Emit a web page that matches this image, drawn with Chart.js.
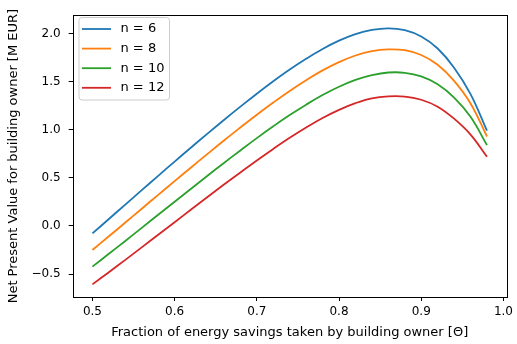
<!DOCTYPE html>
<html>
<head>
<meta charset="utf-8">
<script src="https://cdn.jsdelivr.net/npm/chart.js@4"></script>
<style>
  html, body { margin:0; padding:0; background:#fff; }
  #wrap { width:517px; height:344px; position:relative; }
</style>
</head>
<body>
<div id="wrap"><canvas id="npvChart" width="517" height="344"></canvas></div>
<script>
// fraction of savings taken by owner (theta)
const theta = [0.50, 0.52, 0.54, 0.56, 0.58, 0.60, 0.62, 0.64, 0.66, 0.68, 0.70, 0.72, 0.74,
               0.76, 0.78, 0.80, 0.82, 0.84, 0.86, 0.88, 0.90, 0.92, 0.94, 0.96, 0.98];
// NPV [M EUR] per contract length n
const npvN6  = [-0.078, 0.072, 0.222, 0.372, 0.521, 0.669, 0.815, 0.960, 1.102, 1.240, 1.375, 1.504, 1.626,
                1.738, 1.840, 1.926, 1.994, 2.038, 2.055, 2.035, 1.970, 1.845, 1.645, 1.370, 0.99];
const npvN8  = [-0.250, -0.108, 0.035, 0.179, 0.323, 0.466, 0.608, 0.749, 0.888, 1.023, 1.156, 1.283, 1.404,
                1.515, 1.617, 1.703, 1.772, 1.818, 1.836, 1.827, 1.777, 1.675, 1.508, 1.273, 0.93];
const npvN10 = [-0.423, -0.290, -0.156, -0.020, 0.116, 0.252, 0.387, 0.522, 0.655, 0.785, 0.913, 1.036, 1.153,
                1.261, 1.361, 1.447, 1.518, 1.568, 1.595, 1.592, 1.555, 1.473, 1.335, 1.135, 0.84];
const npvN12 = [-0.608, -0.481, -0.353, -0.223, -0.092, 0.039, 0.170, 0.301, 0.430, 0.556, 0.681, 0.801, 0.916,
                1.023, 1.122, 1.207, 1.277, 1.327, 1.347, 1.345, 1.312, 1.240, 1.115, 0.950, 0.72];
const seriesLabels = ['n = 6', 'n = 8', 'n = 10', 'n = 12'];
const xTicks = [0.5, 0.6, 0.7, 0.8, 0.9, 1.0];
const yTicks = [-0.5, 0.0, 0.5, 1.0, 1.5, 2.0];

const colors = ['#1f77b4', '#ff7f0e', '#2ca02c', '#d62728'];
const FONT = 'DejaVu Sans';
const FS = 12;      // tick labels
const FS_T = 13;    // axis titles + legend

function pts(ys) { return theta.map((t, i) => ({x: t, y: ys[i]})); }
function fmt(v) { return (v < 0 ? '\u2212' : '') + Math.abs(v).toFixed(1); }

// axes frame, axis titles and a matplotlib-ish legend box
const frameAndLegend = {
  id: 'frameAndLegend',
  afterDraw(chart) {
    const {ctx, chartArea: a} = chart;
    ctx.save();
    ctx.strokeStyle = '#000';
    ctx.lineWidth = 1;
    ctx.strokeRect(Math.round(a.left) + 0.5, Math.round(a.top) + 0.5,
      Math.round(a.right - a.left), Math.round(a.bottom - a.top));

    ctx.fillStyle = '#000';
    ctx.font = FS_T + 'px "' + FONT + '"';
    ctx.textAlign = 'center';
    ctx.textBaseline = 'middle';
    ctx.fillText('Fraction of energy savings taken by building owner [\u0398]', (a.left + a.right) / 2, 333);
    ctx.save();
    ctx.translate(14, (a.top + a.bottom) / 2);
    ctx.rotate(-Math.PI / 2);
    ctx.fillText('Net Present Value for building owner [M EUR]', 0, 0);
    ctx.restore();

    // legend
    const x0 = 79, y0 = 17.5, w = 90.5, h = 82.5, r = 3;
    ctx.beginPath();
    ctx.moveTo(x0 + r, y0);
    ctx.arcTo(x0 + w, y0, x0 + w, y0 + h, r);
    ctx.arcTo(x0 + w, y0 + h, x0, y0 + h, r);
    ctx.arcTo(x0, y0 + h, x0, y0, r);
    ctx.arcTo(x0, y0, x0 + w, y0, r);
    ctx.closePath();
    ctx.fillStyle = 'rgba(255,255,255,0.8)';
    ctx.fill();
    ctx.strokeStyle = '#cccccc';
    ctx.lineWidth = 1;
    ctx.stroke();
    ctx.textAlign = 'left';
    chart.data.datasets.forEach((ds, i) => {
      const yy = 29 + i * 19.6;
      ctx.strokeStyle = ds.borderColor;
      ctx.lineWidth = 1.8;
      ctx.beginPath();
      ctx.moveTo(82, yy);
      ctx.lineTo(111, yy);
      ctx.stroke();
      ctx.fillStyle = '#000';
      ctx.fillText(ds.label, 120.5, yy);
    });
    ctx.restore();
  }
};

new Chart(document.getElementById('npvChart'), {
  type: 'line',
  data: {
    datasets: [npvN6, npvN8, npvN10, npvN12].map((ys, i) => ({
      label: seriesLabels[i],
      data: pts(ys),
      borderColor: colors[i],
      borderWidth: 1.8,
      pointRadius: 0,
      tension: 0.4,
      fill: false
    }))
  },
  options: {
    responsive: false,
    animation: false,
    layout: { padding: { left: 0, right: 5, top: 11, bottom: 0 } },
    plugins: { legend: { display: false }, tooltip: { enabled: false } },
    scales: {
      x: {
        type: 'linear', min: 0.476, max: 1.004,
        afterBuildTicks: s => { s.ticks = xTicks.map(v => ({value: v})); },
        afterFit: s => { s.height = 47; },
        grid: { drawOnChartArea: false, drawTicks: true, tickLength: 4, color: '#000', tickColor: '#000' },
        border: { display: false },
        ticks: { color: '#000', padding: 4, maxRotation: 0, font: { family: FONT, size: FS },
                 callback: v => v.toFixed(1) }
      },
      y: {
        type: 'linear', min: -0.739, max: 2.191,
        afterBuildTicks: s => { s.ticks = yTicks.map(v => ({value: v})); },
        afterFit: s => { s.width = 72.7; },
        grid: { drawOnChartArea: false, drawTicks: true, tickLength: 4, color: '#000', tickColor: '#000' },
        border: { display: false },
        ticks: { color: '#000', padding: 8, font: { family: FONT, size: FS }, callback: v => fmt(v) }
      }
    }
  },
  plugins: [frameAndLegend]
});
</script>
</body>
</html>
